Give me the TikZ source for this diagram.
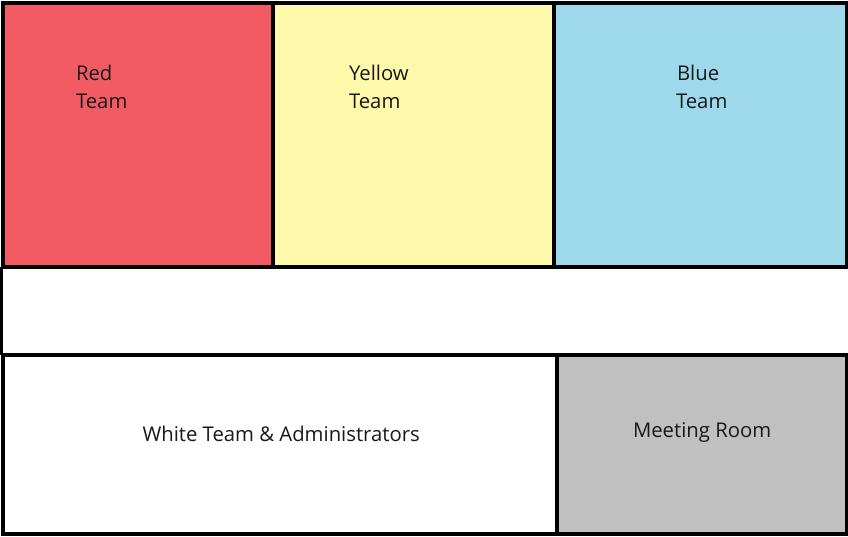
\documentclass[tikz,border=0pt]{standalone}
\usepackage{fontspec}
\setmainfont{Open Sans}
\begin{document}
\begin{tikzpicture}[x=1pt,y=-1pt,
  wall/.style={draw=black,line width=4pt},
  label/.style={anchor=base west,inner sep=0pt,outer sep=0pt,text=black!90,
    font=\fontsize{20.3}{28}\selectfont}]
\definecolor{redroom}{RGB}{242,90,100}
\definecolor{yellowroom}{RGB}{255,249,172}
\definecolor{blueroom}{RGB}{157,217,234}
\definecolor{greyroom}{RGB}{192,192,192}
\useasboundingbox (0,0) rectangle (848,536);
\fill[white] (0,0) rectangle (848,536);
% top row of rooms
\fill[redroom]    (2.5,3) rectangle (272.5,266.5);
\fill[yellowroom] (272.5,3) rectangle (553.5,266.5);
\fill[blueroom]   (553.5,3) rectangle (846.5,266.5);
\draw[wall] (2.5,3) rectangle (846.5,266.5);
\draw[wall] (272.5,3) -- (272.5,266.5);
\draw[wall] (553.5,3) -- (553.5,266.5);
% corridor wall
\draw[draw=black,line width=3pt] (1.5,266.5) -- (1.5,354.5);
% bottom row of rooms
\fill[greyroom] (557,354.5) rectangle (846.5,533.5);
\draw[wall] (2.5,354.5) rectangle (557,533.5);
\draw[wall] (557,354.5) rectangle (846.5,533.5);
% room names
\node[label] (red1)    at (76,80.7)   {Red};
\node[label] (red2)    at (76,108.5)  {Team};
\node[label] (yellow1) at (349,80.7)  {Yellow};
\node[label] (yellow2) at (349,108.5) {Team};
\node[label] (blue1)   at (677,80.7)  {Blue};
\node[label] (blue2)   at (676,108.5) {Team};
\node[label] (white)   at (142.5,441.7) {White Team \& Administrators};
\node[label] (meet)    at (633,437) {Meeting Room};
\end{tikzpicture}
\end{document}
